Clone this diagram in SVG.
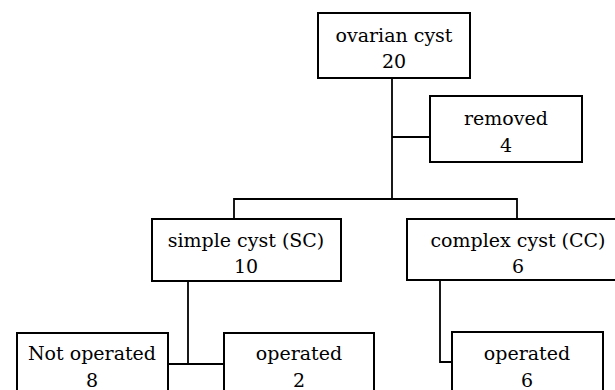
<svg xmlns="http://www.w3.org/2000/svg" width="615" height="390" viewBox="0 0 615 390">
<style>
.box{fill:#fff;stroke:#000;stroke-width:2}
.ln{fill:none;stroke:#000;stroke-width:1.8}
text{font-family:"DejaVu Serif","Liberation Serif",serif;font-size:19px;fill:#000;text-anchor:middle}
</style>
<rect width="615" height="390" fill="#fff"/>
<g id="connectors">
<polyline class="ln" points="392,78 392,199"/>
<polyline class="ln" points="392,137 430,137"/>
<polyline class="ln" points="234,219 234,199 517,199 517,219"/>
<polyline class="ln" points="188,281 188,364"/>
<polyline class="ln" points="168,364 224,364"/>
<polyline class="ln" points="440,278 440,362 452,362"/>
</g>
<g id="ovarian">
<rect class="box" x="318" y="13" width="152" height="65"/>
<text x="394" y="42">ovarian cyst</text>
<text x="394" y="68">20</text>
</g>
<g id="removed">
<rect class="box" x="430" y="96" width="152" height="66"/>
<text x="506" y="125">removed</text>
<text x="506" y="152">4</text>
</g>
<g id="simple">
<rect class="box" x="152" y="219" width="189" height="62"/>
<text x="246" y="247">simple cyst (SC)</text>
<text x="246" y="273">10</text>
</g>
<g id="complex">
<rect class="box" x="407" y="219" width="220" height="61"/>
<text x="518" y="247">complex cyst (CC)</text>
<text x="518" y="273">6</text>
</g>
<g id="notop">
<rect class="box" x="17" y="333" width="151" height="66"/>
<text x="92" y="360">Not operated</text>
<text x="92" y="387">8</text>
</g>
<g id="op2">
<rect class="box" x="224" y="333" width="150" height="66"/>
<text x="299" y="360">operated</text>
<text x="299" y="387">2</text>
</g>
<g id="op6">
<rect class="box" x="452" y="332" width="151" height="67"/>
<text x="527" y="360">operated</text>
<text x="527" y="387">6</text>
</g>
</svg>
